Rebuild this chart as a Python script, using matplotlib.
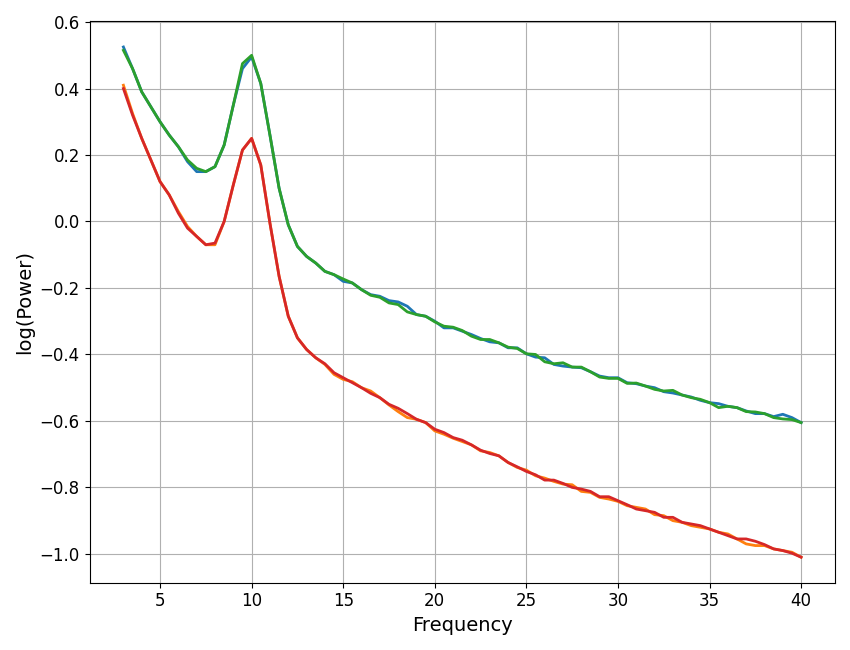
import numpy as np
import matplotlib
matplotlib.use('Agg')
import matplotlib.pyplot as plt

# Frequencies 3..40 Hz in 0.5 steps
freqs = np.arange(3, 40.5, 0.5)

# Upper pair (blue / green)
blue = [0.525, 0.46, 0.39, 0.345, 0.30, 0.26, 0.225, 0.18, 0.15, 0.15,
        0.165, 0.23, 0.35, 0.46, 0.495, 0.415, 0.26, 0.10, -0.01, -0.075,
        -0.105, -0.125, -0.15, -0.16, -0.18, -0.185, -0.205, -0.22, -0.225, -0.238,
        -0.242, -0.255, -0.28, -0.285, -0.30, -0.32, -0.32, -0.33, -0.34, -0.352,
        -0.362, -0.365, -0.38, -0.38, -0.398, -0.408, -0.41, -0.43, -0.435, -0.438,
        -0.44, -0.452, -0.465, -0.47, -0.47, -0.485, -0.488, -0.495, -0.50, -0.512,
        -0.516, -0.522, -0.528, -0.538, -0.545, -0.548, -0.556, -0.56, -0.57, -0.578,
        -0.578, -0.587, -0.58, -0.59, -0.605]
green = [0.515, 0.46, 0.39, 0.345, 0.30, 0.26, 0.225, 0.185, 0.16, 0.15,
         0.165, 0.23, 0.35, 0.475, 0.50, 0.415, 0.26, 0.10, -0.01, -0.075,
         -0.105, -0.125, -0.15, -0.16, -0.173, -0.185, -0.205, -0.222, -0.228, -0.245,
         -0.25, -0.272, -0.28, -0.285, -0.302, -0.315, -0.318, -0.328, -0.345, -0.355,
         -0.355, -0.365, -0.378, -0.382, -0.398, -0.40, -0.422, -0.428, -0.425, -0.438,
         -0.438, -0.452, -0.468, -0.472, -0.472, -0.487, -0.486, -0.495, -0.505, -0.51,
         -0.508, -0.522, -0.53, -0.535, -0.545, -0.56, -0.556, -0.56, -0.572, -0.573,
         -0.578, -0.59, -0.594, -0.596, -0.605]

# Lower pair (orange / red)
orange = [0.41, 0.325, 0.25, 0.185, 0.12, 0.08, 0.03, -0.015, -0.045, -0.07,
          -0.07, 0.0, 0.11, 0.215, 0.25, 0.17, -0.005, -0.165, -0.285, -0.35,
          -0.385, -0.41, -0.43, -0.46, -0.475, -0.482, -0.50, -0.51, -0.53, -0.552,
          -0.572, -0.59, -0.595, -0.605, -0.63, -0.64, -0.652, -0.662, -0.672, -0.69,
          -0.695, -0.705, -0.725, -0.74, -0.748, -0.765, -0.772, -0.782, -0.79, -0.792,
          -0.812, -0.815, -0.83, -0.835, -0.842, -0.855, -0.86, -0.865, -0.882, -0.885,
          -0.9, -0.905, -0.915, -0.92, -0.925, -0.935, -0.94, -0.955, -0.97, -0.975,
          -0.975, -0.985, -0.99, -0.995, -1.01]
red = [0.40, 0.32, 0.25, 0.185, 0.12, 0.08, 0.025, -0.02, -0.045, -0.07,
       -0.065, 0.0, 0.11, 0.215, 0.25, 0.17, -0.005, -0.165, -0.285, -0.35,
       -0.385, -0.41, -0.428, -0.455, -0.47, -0.485, -0.50, -0.517, -0.53, -0.55,
       -0.562, -0.578, -0.595, -0.605, -0.625, -0.635, -0.65, -0.658, -0.672, -0.688,
       -0.698, -0.705, -0.725, -0.738, -0.752, -0.762, -0.778, -0.778, -0.788, -0.8,
       -0.805, -0.812, -0.828, -0.828, -0.84, -0.852, -0.865, -0.87, -0.875, -0.89,
       -0.89, -0.905, -0.91, -0.915, -0.925, -0.935, -0.945, -0.955, -0.955, -0.962,
       -0.972, -0.985, -0.99, -0.998, -1.01]

fig, ax = plt.subplots(figsize=(8.5, 6.5), dpi=100)
ax.plot(freqs, blue, color='tab:blue', lw=2)
ax.plot(freqs, orange, color='tab:orange', lw=2)
ax.plot(freqs, green, color='tab:green', lw=2)
ax.plot(freqs, red, color='tab:red', lw=2)

ax.set_xlabel('Frequency', fontsize=14)
ax.set_ylabel('log(Power)', fontsize=14)
ax.tick_params(labelsize=12)
ax.grid(True)

fig.tight_layout()
fig.savefig('out.png')
